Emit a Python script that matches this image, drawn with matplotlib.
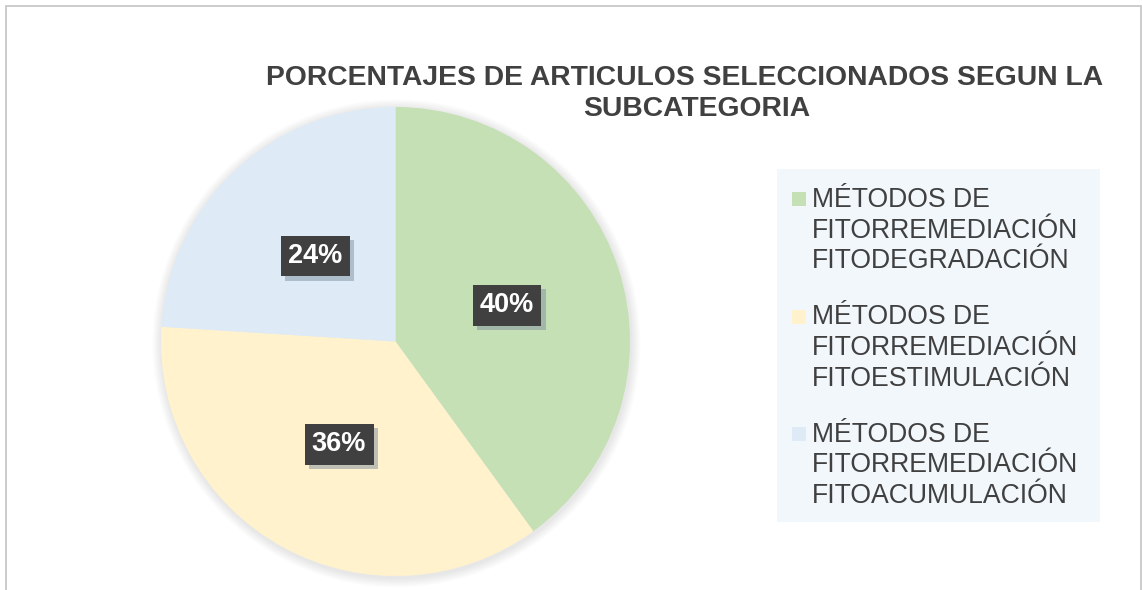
import matplotlib
matplotlib.use("Agg")
import matplotlib.pyplot as plt
import matplotlib.patheffects as pe
from matplotlib.patches import Rectangle, Circle

plt.rcParams['font.family'] = ['Liberation Sans', 'DejaVu Sans']

# data
labels = ['MÉTODOS DE\nFITORREMEDIACIÓN\nFITODEGRADACIÓN',
          'MÉTODOS DE\nFITORREMEDIACIÓN\nFITOESTIMULACIÓN',
          'MÉTODOS DE\nFITORREMEDIACIÓN\nFITOACUMULACIÓN']
values = [40, 36, 24]
colors = ['#C5E0B4', '#FFF2CC', '#DEEBF7']
title = 'PORCENTAJES DE ARTICULOS SELECCIONADOS SEGUN LA\nSUBCATEGORIA'

W, H = 1142, 590
fig = plt.figure(figsize=(W / 100, H / 100), dpi=100)

def fx(x):
    return x / W

def fy(y):
    return 1 - y / H

# chart frame
fig.patches.append(Rectangle((fx(6), fy(600)), fx(1141) - fx(6), fy(6) - fy(600),
                             transform=fig.transFigure, fill=False,
                             edgecolor='#C8C8C8', lw=1.3))

# pie axes, centre (395.5, 341.5), radius 234.5 px
ax = fig.add_axes([fx(161), fy(576), 469 / W, 469 / H])

# soft shadow around the pie
for i in range(8):
    ax.add_patch(Circle((0.004, -0.008), 1.0 + 0.005 * (i + 1), color='#808080',
                        alpha=0.022, lw=0, zorder=0, clip_on=False))

wedges, texts, autotexts = ax.pie(values, colors=colors, startangle=90, counterclock=False,
                                  radius=1, autopct='%1.0f%%', pctdistance=0.5,
                                  wedgeprops=dict(linewidth=0),
                                  textprops=dict(color='white', fontsize=19.5, fontweight='bold'))
ax.set_xlim(-1, 1)
ax.set_ylim(-1, 1)
ax.set_aspect('equal')
ax.axis('off')
for t in autotexts:
    t.set_zorder(5)
    t.set_bbox(dict(boxstyle='square,pad=0.27', facecolor='#404040', edgecolor='none'))
    t.get_bbox_patch().set_path_effects([pe.withSimplePatchShadow(offset=(3, -3),
                                                                  shadow_rgbFace='#8090A0',
                                                                  alpha=0.5), pe.Normal()])

# title
fig.text(fx(685), fy(85), title.split('\n')[0], ha='center', va='baseline',
         fontsize=20.3, fontweight='bold', color='#404040')
fig.text(fx(697), fy(116), title.split('\n')[1], ha='center', va='baseline',
         fontsize=20.3, fontweight='bold', color='#404040')

# legend
fig.patches.append(Rectangle((fx(777), fy(522)), fx(1100) - fx(777), fy(169) - fy(522),
                             transform=fig.transFigure, facecolor='#F2F7FC',
                             edgecolor='none'))
for i, (lab, col) in enumerate(zip(labels, colors)):
    y0 = 207 + i * 117.5
    fig.patches.append(Rectangle((fx(792), fy(y0 - 1)), 14 / W, 14 / H,
                                 transform=fig.transFigure, facecolor=col, edgecolor='none'))
    for j, line in enumerate(lab.split('\n')):
        fig.text(fx(812), fy(y0 + j * 30.5), line, ha='left', va='baseline',
                 fontsize=19.2, color='#404040')

fig.savefig('out.png', dpi=100)
